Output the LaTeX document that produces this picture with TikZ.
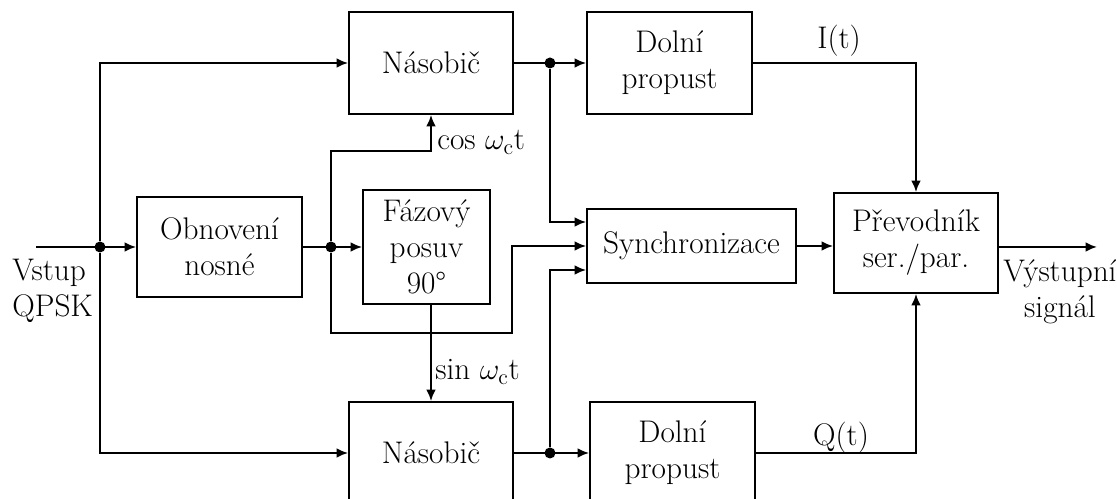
\documentclass[tikz,border=0pt]{standalone}
\usepackage{fontspec}
\usetikzlibrary{arrows.meta,positioning}

\tikzset{
  blok/.style={draw, line width=1.1pt, inner sep=0, align=center, font=\fontsize{17.8}{20.5}\selectfont},
  spoj/.style={line width=1.1pt, -{Latex[length=6.5pt,width=5.5pt]}},
  uzel/.style={circle, fill, inner sep=0, minimum size=0.22cm},
  popis/.style={inner sep=0, font=\fontsize{17.8}{20.5}\selectfont}
}

\begin{document}
\begin{tikzpicture}[x=0.02cm, y=-0.02cm]
\useasboundingbox (0,0) rectangle (1117,499);

\node[blok, minimum width=3.3cm, minimum height=2cm] (obnova) at (219.5,247) {Obnovení\\nosné};
\node[blok, minimum width=2.54cm, minimum height=2.28cm] (fazovy) at (426.5,247) {Fázový\\posuv\\90°};
\node[blok, minimum width=3.28cm, minimum height=2.04cm] (nas1) at (431,63) {Násobič};
\node[blok, minimum width=3.28cm, minimum height=2.04cm] (nas2) at (431,453) {Násobič};
\node[blok, minimum width=3.3cm, minimum height=2.04cm] (dp1) at (669.5,63) {Dolní\\propust};
\node[blok, minimum width=3.3cm, minimum height=2.04cm] (dp2) at (672.5,453) {Dolní\\propust};
\node[blok, minimum width=4.18cm, minimum height=1.48cm] (synchro) at (691.5,246) {Synchronizace};
\node[blok, minimum width=3.28cm, minimum height=2cm] (prevodnik) at (916,243) {Převodník\\ser./par.};

\coordinate (vstup) at (36,247);
\coordinate (vystup) at (1097,247);
\coordinate (cosroh) at (431,151);
\coordinate (obchod) at (512,333);
\node[uzel] (j1) at (100,247) {};
\node[uzel] (j2) at (331,247) {};
\node[uzel] (j3) at (550,63) {};
\node[uzel] (j4) at (550,453) {};

\draw[spoj] (vstup) -- (obnova.west);
\draw[spoj] (j1) |- (nas1.west);
\draw[spoj] (j1) |- (nas2.west);
\draw[spoj] (obnova.east) -- (fazovy.west);
\draw[spoj] (j2) |- (cosroh) -- (nas1.south);
\draw[spoj] (j2) |- (obchod) |- (synchro.west);
\draw[spoj] (nas2.north |- fazovy.south) -- (nas2.north);
\draw[spoj] (nas1.east) -- (dp1.west);
\draw[spoj] (nas2.east) -- (dp2.west);
\draw[spoj] (j3) |- ([yshift=0.48cm]synchro.west);
\draw[spoj] (j4) |- ([yshift=-0.48cm]synchro.west);
\draw[spoj] (dp1.east) -| (prevodnik.north);
\draw[spoj] (dp2.east) -| (prevodnik.south);
\draw[spoj] (synchro.east) -- (synchro.east -| prevodnik.west);
\draw[spoj] (prevodnik.east |- vystup) -- (vystup);

\node[popis, anchor=north west, align=left] (vstuptext) at (12,259) {Vstup\\QPSK};
\node[popis, anchor=north, align=center] (vystuptext) at (1060,259) {Výstupní\\signál};
\node[popis, anchor=base west] (cosw) at (437,150) {cos $\omega_{\mathrm{c}}$t};
\node[popis, anchor=base west] (sinw) at (435,380) {sin $\omega_{\mathrm{c}}$t};
\node[popis, anchor=base] (it) at (839,49) {I(t)};
\node[popis, anchor=base] (qt) at (841,446) {Q(t)};
\end{tikzpicture}
\end{document}
